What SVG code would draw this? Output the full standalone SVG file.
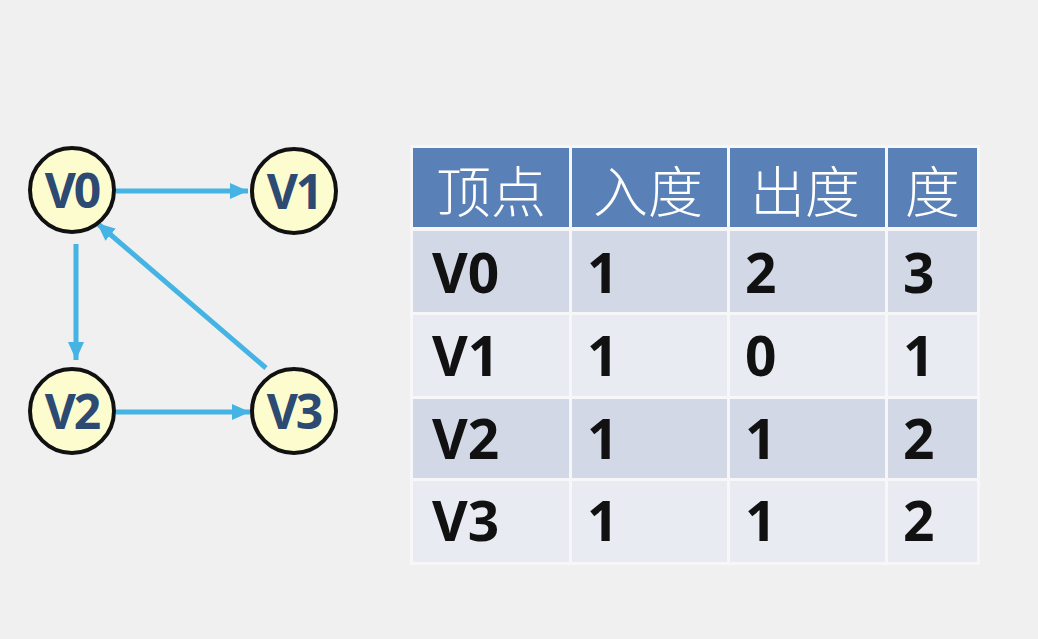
<svg xmlns="http://www.w3.org/2000/svg" width="1038" height="639" viewBox="0 0 1038 639">
<style>
.node circle{fill:#fdfccf;stroke:#111;stroke-width:4}
.node text{font-family:"Open Sans","Noto Sans",sans-serif;font-weight:bold;font-size:48px;fill:#2c4a72;text-anchor:middle;letter-spacing:-2px}
.edge{stroke:#45b3e3;stroke-width:5;fill:none;marker-end:url(#ah)}
.hd{fill:#5a80b8}
.dk{fill:#d3d8e7}
.lt{fill:#e9ebf2}
.ht{font-family:"Noto Sans CJK SC",sans-serif;font-weight:300;font-size:55px;fill:#fff}
.bt{font-family:"Open Sans","Noto Sans",sans-serif;font-weight:bold;font-size:55px;fill:#111}
</style>
<defs>
<marker id="ah" markerUnits="userSpaceOnUse" markerWidth="20" markerHeight="18" refX="18" refY="9" orient="auto">
<path d="M0,1 L18,9 L0,17 Z" fill="#45b3e3"/>
</marker>
</defs>
<rect width="1038" height="639" fill="#f0f0f0"/>
<g id="connectors">
<line class="edge" x1="116" y1="191" x2="248" y2="191"/>
<line class="edge" x1="76" y1="244" x2="76" y2="360"/>
<line class="edge" x1="116" y1="412" x2="250" y2="412"/>
<line class="edge" x1="266" y1="368" x2="97" y2="223"/>
</g>
<g id="V0" class="node"><circle cx="72" cy="190" r="42"/><text x="72" y="208">V0</text></g>
<g id="V1" class="node"><circle cx="294" cy="191" r="42"/><text x="294" y="209">V1</text></g>
<g id="V2" class="node"><circle cx="72" cy="411" r="42"/><text x="72" y="429">V2</text></g>
<g id="V3" class="node"><circle cx="294" cy="411" r="42"/><text x="294" y="429">V3</text></g>
<g id="table">
<rect x="410" y="145" width="570" height="420" fill="#f7f7fa"/>
<rect class="hd" x="413" y="148" width="156" height="79"/>
<rect class="hd" x="572" y="148" width="155" height="79"/>
<rect class="hd" x="730" y="148" width="155" height="79"/>
<rect class="hd" x="888" y="148" width="89" height="79"/>
<rect class="dk" x="413" y="231" width="156" height="81"/>
<rect class="dk" x="572" y="231" width="155" height="81"/>
<rect class="dk" x="730" y="231" width="155" height="81"/>
<rect class="dk" x="888" y="231" width="89" height="81"/>
<rect class="lt" x="413" y="315" width="156" height="81"/>
<rect class="lt" x="572" y="315" width="155" height="81"/>
<rect class="lt" x="730" y="315" width="155" height="81"/>
<rect class="lt" x="888" y="315" width="89" height="81"/>
<rect class="dk" x="413" y="399" width="156" height="79"/>
<rect class="dk" x="572" y="399" width="155" height="79"/>
<rect class="dk" x="730" y="399" width="155" height="79"/>
<rect class="dk" x="888" y="399" width="89" height="79"/>
<rect class="lt" x="413" y="481" width="156" height="81"/>
<rect class="lt" x="572" y="481" width="155" height="81"/>
<rect class="lt" x="730" y="481" width="155" height="81"/>
<rect class="lt" x="888" y="481" width="89" height="81"/>
<text class="ht" x="436" y="212">顶点</text>
<text class="ht" x="593" y="212">入度</text>
<text class="ht" x="750" y="212">出度</text>
<text class="ht" x="905" y="212">度</text>
<text class="bt" x="432" y="293">V0</text>
<text class="bt" x="587" y="293">1</text>
<text class="bt" x="745" y="293">2</text>
<text class="bt" x="903" y="293">3</text>
<text class="bt" x="432" y="376">V1</text>
<text class="bt" x="587" y="376">1</text>
<text class="bt" x="745" y="376">0</text>
<text class="bt" x="903" y="376">1</text>
<text class="bt" x="432" y="459">V2</text>
<text class="bt" x="587" y="459">1</text>
<text class="bt" x="745" y="459">1</text>
<text class="bt" x="903" y="459">2</text>
<text class="bt" x="432" y="541">V3</text>
<text class="bt" x="587" y="541">1</text>
<text class="bt" x="745" y="541">1</text>
<text class="bt" x="903" y="541">2</text>
</g>
</svg>
